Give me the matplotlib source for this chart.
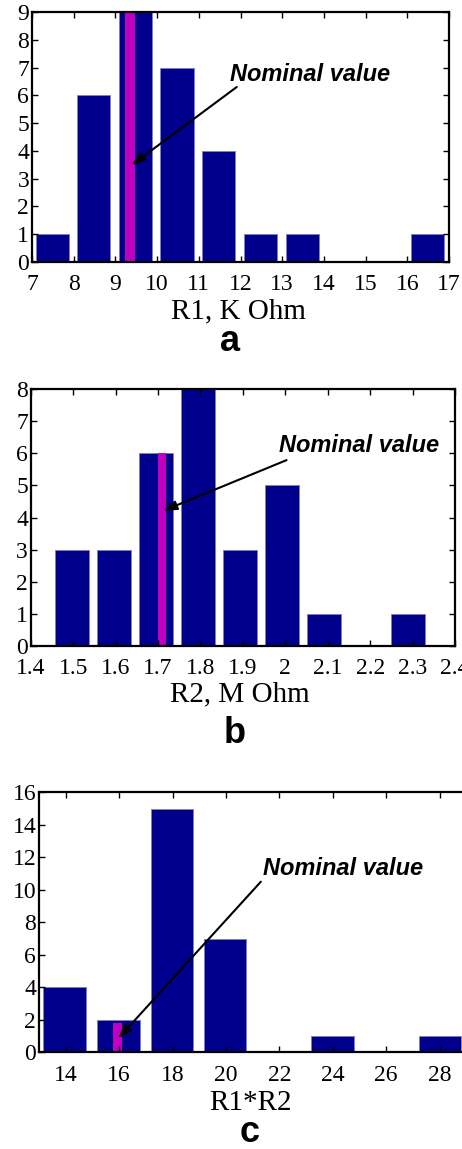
import matplotlib
matplotlib.use("Agg")
import matplotlib.pyplot as plt

# ---- data ----
a_centers = [7.49, 8.48, 9.48, 10.48, 11.48, 12.48, 13.48, 14.48, 15.48, 16.49]
a_counts = [1, 6, 9, 7, 4, 1, 1, 0, 0, 1]
a_nominal = 9.355
a_nominal_h = 9

b_centers = [1.497, 1.597, 1.695, 1.795, 1.893, 1.993, 2.091, 2.19, 2.29]
b_counts = [3, 3, 6, 8, 3, 5, 1, 0, 1]
b_nominal = 1.71
b_nominal_h = 6

c_centers = [13.96, 15.99, 17.98, 19.97, 22.0, 23.99, 26.0, 28.02]
c_counts = [4, 2, 15, 7, 0, 1, 0, 1]
c_nominal = 15.93
c_nominal_h = 1.78

a_xticks = [7, 8, 9, 10, 11, 12, 13, 14, 15, 16, 17]
a_xlabels = ["7", "8", "9", "10", "11", "12", "13", "14", "15", "16", "17"]
b_xticks = [1.4, 1.5, 1.6, 1.7, 1.8, 1.9, 2.0, 2.1, 2.2, 2.3, 2.4]
b_xlabels = ["1.4", "1.5", "1.6", "1.7", "1.8", "1.9", "2", "2.1", "2.2", "2.3", "2.4"]
c_xticks = [14, 16, 18, 20, 22, 24, 26, 28]
c_xlabels = ["14", "16", "18", "20", "22", "24", "26", "28"]
c_yticks = [0, 2, 4, 6, 8, 10, 12, 14, 16]

NAVY = "#00008C"
MAG = "#BF00BF"
EDGE = "#7F7FBF"

W, H = 462, 1149
fig = plt.figure(figsize=(W / 100, H / 100), dpi=100)

serif = ["Liberation Serif", "DejaVu Serif"]
sans = ["Liberation Sans", "DejaVu Sans"]


def px_rect(l, r, t, b):
    return [l / W, 1 - b / H, (r - l) / W, (b - t) / H]


def style(ax, xticks, xlabels, yticks, right=True):
    ax.set_xticks(xticks)
    ax.set_xticklabels(xlabels)
    ax.set_yticks(yticks)
    ax.set_yticklabels([str(v) for v in yticks])
    ax.tick_params(direction="in", length=4, width=1, top=True, right=right,
                   labelsize=17, colors="black")
    ax.tick_params(axis="x", pad=9)
    ax.tick_params(axis="y", pad=2)
    for lab in ax.get_xticklabels() + ax.get_yticklabels():
        lab.set_family(serif)
    for sp in ax.spines.values():
        sp.set_linewidth(1.6)


def fig_text(x, y, s, **kw):
    fig.text(x / W, 1 - y / H, s, **kw)


ARROW = dict(arrowstyle="-|>,head_length=0.8,head_width=0.28",
             color="black", lw=1.5, shrinkA=0, shrinkB=0)
NOMKW = dict(family=sans, fontsize=17, fontweight="bold", fontstyle="italic",
             va="center", ha="left")

# ---- panel a ----
ax1 = fig.add_axes(px_rect(32, 449, 12, 262))
ax1.bar(a_centers, a_counts, width=0.8, color=NAVY, edgecolor=EDGE, linewidth=0.6)
ax1.bar([a_nominal], [a_nominal_h], width=0.23, color=MAG, linewidth=0)
ax1.set_xlim(7, 17)
ax1.set_ylim(0, 9)
style(ax1, a_xticks, a_xlabels, list(range(0, 10)))
ax1.annotate("", xy=(9.39, 3.49), xytext=(11.91, 6.3), arrowprops=ARROW)
ax1.text(11.75, 6.76, "Nominal value", **NOMKW)
fig_text(238, 318, "R1, K Ohm", family=serif, fontsize=21, ha="center", va="baseline")
fig_text(230, 351, "a", family=sans, fontsize=26, fontweight="bold", ha="center", va="baseline")

# ---- panel b ----
ax2 = fig.add_axes(px_rect(30.7, 455, 389.3, 645.7))
ax2.bar(b_centers, b_counts, width=0.08, color=NAVY, edgecolor=EDGE, linewidth=0.6)
ax2.bar([b_nominal], [b_nominal_h], width=0.02, color=MAG, linewidth=0)
ax2.set_xlim(1.4, 2.4)
ax2.set_ylim(0, 8)
style(ax2, b_xticks, b_xlabels, list(range(0, 9)))
ax2.annotate("", xy=(1.7125, 4.21), xytext=(2.003, 5.79), arrowprops=ARROW)
ax2.text(1.986, 6.26, "Nominal value", **NOMKW)
fig_text(240, 701, "R2, M Ohm", family=serif, fontsize=21, ha="center", va="baseline")
fig_text(235, 743, "b", family=sans, fontsize=26, fontweight="bold", ha="center", va="baseline")

# ---- panel c ----
ax3 = fig.add_axes(px_rect(39, 466.2, 792.3, 1052.3))
ax3.bar(c_centers, c_counts, width=1.6, color=NAVY, edgecolor=EDGE, linewidth=0.6)
ax3.bar([c_nominal], [c_nominal_h], width=0.34, color=MAG, linewidth=0)
ax3.set_xlim(13, 29)
ax3.set_ylim(0, 16)
style(ax3, c_xticks, c_xlabels, c_yticks, right=False)
ax3.annotate("", xy=(15.97, 0.86), xytext=(21.31, 10.5), arrowprops=ARROW)
ax3.text(21.4, 11.3, "Nominal value", **NOMKW)
fig_text(250, 1110, "R1*R2", family=serif, fontsize=21, ha="center", va="baseline")
fig_text(250, 1142, "c", family=sans, fontsize=26, fontweight="bold", ha="center", va="baseline")

fig.savefig("out.png", dpi=100, facecolor="white")
